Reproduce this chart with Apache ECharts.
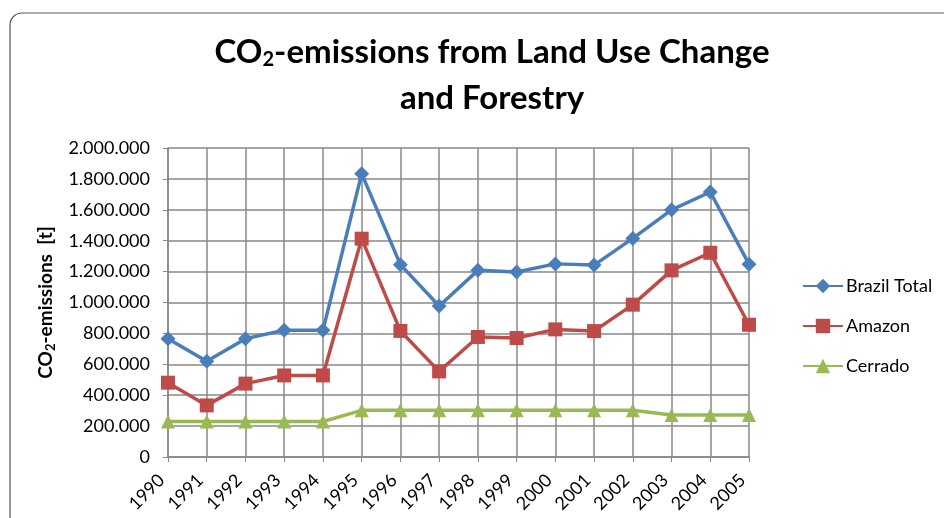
<!DOCTYPE html>
<html>
<head>
<meta charset="utf-8">
<script src="https://cdn.jsdelivr.net/npm/echarts@6/dist/echarts.min.js"></script>
<style>
  html, body { margin: 0; padding: 0; background: #fff; }
  #div1 { width: 944px; height: 518px; }
</style>
</head>
<body>
<div id="div1"></div>
<script>
var years = ['1990', '1991', '1992', '1993', '1994', '1995', '1996', '1997',
  '1998', '1999', '2000', '2001', '2002', '2003', '2004', '2005'];
var brazilTotal = [766000, 619000, 766000, 820000, 820000, 1834000, 1245000, 977000,
  1208000, 1197000, 1250000, 1242000, 1415000, 1600000, 1715000, 1248000];
var amazon = [481000, 334000, 475000, 528000, 528000, 1413000, 816000, 554000,
  777000, 770000, 826000, 815000, 986000, 1208000, 1322000, 856000];
var cerrado = [230000, 230000, 230000, 230000, 230000, 302000, 302000, 302000,
  302000, 302000, 302000, 302000, 302000, 272000, 272000, 272000];

(function () {
  var font = 'Lato';
  var myChart = echarts.init(document.getElementById('div1'));
  function dots(v) {
    return String(v).replace(/\B(?=(\d{3})+(?!\d))/g, '.');
  }
  var option = {
    backgroundColor: '#fff',
    animation: false,
    textStyle: { fontFamily: font },
    graphic: [{
      type: 'rect',
      shape: { x: 10, y: 13, width: 1000, height: 600, r: 12 },
      style: { fill: 'none', stroke: '#555', lineWidth: 1.2 }
    }],
    title: [
      {
        text: '{a|CO}{s|2}{a|-emissions from Land Use Change}',
        left: 487,
        top: 27,
        textAlign: 'center',
        textStyle: {
          rich: {
            a: { fontFamily: font, fontWeight: 'bold', fontSize: 33, color: '#000', lineHeight: 40 },
            s: { fontFamily: font, fontWeight: 'bold', fontSize: 20, color: '#000', lineHeight: 40, padding: [16, 0, 0, 0] }
          }
        }
      },
      {
        text: 'and Forestry',
        left: 487,
        top: 73,
        textAlign: 'center',
        textStyle: { fontFamily: font, fontWeight: 'bold', fontSize: 33, color: '#000', lineHeight: 40 }
      }
    ],
    legend: {
      orient: 'vertical',
      left: 797,
      top: 272,
      itemWidth: 40,
      itemHeight: 18,
      itemGap: 22,
      textStyle: { fontFamily: font, fontSize: 18, color: '#000', padding: [0, 0, 0, -2] },
      data: ['Brazil Total', 'Amazon', 'Cerrado']
    },
    grid: { left: 168, right: 195, top: 148, bottom: 61, outerBoundsMode: 'none' },
    xAxis: {
      type: 'category',
      data: years,
      boundaryGap: false,
      axisLine: { lineStyle: { color: '#888', width: 1.5 } },
      axisTick: { show: true, length: 5, lineStyle: { color: '#888' } },
      axisLabel: { rotate: 45, color: '#000', fontSize: 18, fontFamily: font, margin: 14, padding: [18, 9, 0, 0] },
      splitLine: { show: true, lineStyle: { color: '#888', width: 1.5 } }
    },
    yAxis: {
      type: 'value',
      min: 0,
      max: 2000000,
      interval: 200000,
      name: '{a|CO}{s|2}{a|-emissions  [t]}',
      nameLocation: 'middle',
      nameGap: 103,
      nameTextStyle: {
        rich: {
          a: { fontFamily: font, fontWeight: 'bold', fontSize: 19, color: '#000' },
          s: { fontFamily: font, fontWeight: 'bold', fontSize: 13, color: '#000', padding: [10, 0, 0, 0] }
        }
      },
      axisLine: { show: true, lineStyle: { color: '#888', width: 1.5 } },
      axisTick: { show: true, length: 5, lineStyle: { color: '#888' } },
      axisLabel: { color: '#000', fontSize: 18, fontFamily: font, margin: 18, formatter: dots },
      splitLine: { show: true, lineStyle: { color: '#888', width: 1.5 } }
    },
    series: [
      {
        name: 'Brazil Total', type: 'line', data: brazilTotal,
        symbol: 'diamond', symbolSize: 15,
        itemStyle: { color: '#4a7ebb' },
        lineStyle: { color: '#4a7ebb', width: 3.5 }
      },
      {
        name: 'Amazon', type: 'line', data: amazon,
        symbol: 'rect', symbolSize: 14,
        itemStyle: { color: '#be4b48' },
        lineStyle: { color: '#be4b48', width: 3.5 }
      },
      {
        name: 'Cerrado', type: 'line', data: cerrado,
        symbol: 'triangle', symbolSize: 14,
        itemStyle: { color: '#98b954' },
        lineStyle: { color: '#98b954', width: 3.5 }
      }
    ]
  };
  myChart.setOption(option);
})();
</script>
</body>
</html>
